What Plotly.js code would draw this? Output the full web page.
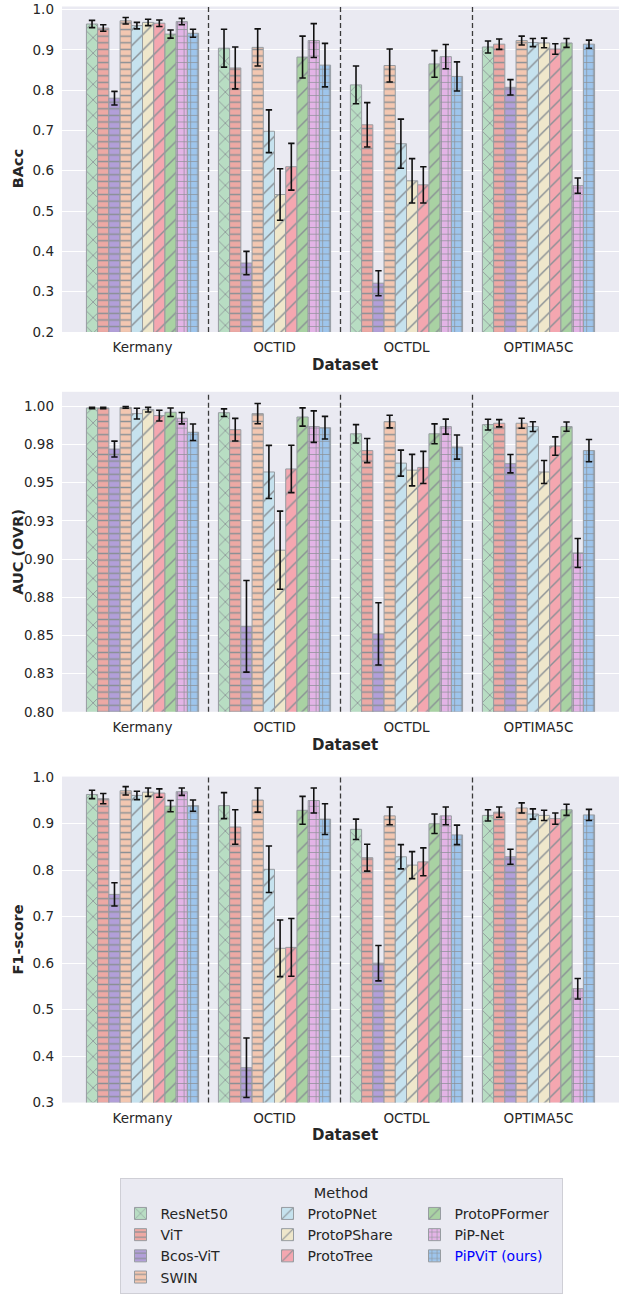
<!DOCTYPE html>
<html>
<head>
<meta charset="utf-8">
<script src="https://cdn.plot.ly/plotly-3.0.1.min.js"></script>
<style>html,body{margin:0;padding:0;background:#fff;}#chart{width:619px;height:1294px;}</style>
</head>
<body>
<div id="chart"></div>
<script>
// ---------- data ----------
const datasets = ["Kermany", "OCTID", "OCTDL", "OPTIMA5C"];
const methods = ["ResNet50", "ViT", "Bcos-ViT", "SWIN", "ProtoPNet", "ProtoPShare", "ProtoTree", "ProtoPFormer", "PiP-Net", "PiPViT (ours)"];

// rows = methods (same order), columns = datasets
const baccMean = [
  [0.964, 0.904, 0.813, 0.907],
  [0.954, 0.855, 0.714, 0.914],
  [0.780, 0.371, 0.321, 0.807],
  [0.972, 0.906, 0.861, 0.923],
  [0.960, 0.698, 0.667, 0.918],
  [0.968, 0.541, 0.575, 0.917],
  [0.966, 0.610, 0.565, 0.902],
  [0.939, 0.882, 0.865, 0.917],
  [0.970, 0.923, 0.883, 0.563],
  [0.941, 0.862, 0.834, 0.914]
];
const baccErr = [
  [0.009, 0.047, 0.047, 0.015],
  [0.008, 0.052, 0.055, 0.013],
  [0.017, 0.029, 0.031, 0.019],
  [0.008, 0.046, 0.041, 0.011],
  [0.008, 0.053, 0.061, 0.010],
  [0.008, 0.064, 0.055, 0.012],
  [0.008, 0.058, 0.045, 0.013],
  [0.010, 0.052, 0.033, 0.011],
  [0.008, 0.042, 0.030, 0.019],
  [0.010, 0.054, 0.036, 0.010]
];
const aucMean = [
  [0.9989, 0.9958, 0.9820, 0.9880],
  [0.9989, 0.9847, 0.9710, 0.9889],
  [0.9720, 0.8560, 0.8510, 0.9624],
  [0.9993, 0.9952, 0.9900, 0.9889],
  [0.9952, 0.9570, 0.9628, 0.9867],
  [0.9978, 0.9058, 0.9582, 0.9570],
  [0.9939, 0.9590, 0.9600, 0.9740],
  [0.9961, 0.9930, 0.9820, 0.9867],
  [0.9922, 0.9867, 0.9867, 0.9040],
  [0.9830, 0.9860, 0.9733, 0.9710]
];
const aucErr = [
  [0.0005, 0.0025, 0.0060, 0.0035],
  [0.0005, 0.0074, 0.0079, 0.0024],
  [0.0052, 0.0300, 0.0204, 0.0060],
  [0.0006, 0.0066, 0.0041, 0.0033],
  [0.0035, 0.0174, 0.0085, 0.0032],
  [0.0015, 0.0256, 0.0103, 0.0075],
  [0.0035, 0.0155, 0.0105, 0.0060],
  [0.0028, 0.0060, 0.0065, 0.0030],
  [0.0037, 0.0103, 0.0049, 0.0095],
  [0.0054, 0.0074, 0.0079, 0.0073]
];
const f1Mean = [
  [0.963, 0.939, 0.888, 0.918],
  [0.954, 0.893, 0.827, 0.925],
  [0.748, 0.375, 0.600, 0.829],
  [0.971, 0.951, 0.917, 0.934],
  [0.961, 0.802, 0.829, 0.921],
  [0.968, 0.632, 0.811, 0.918],
  [0.966, 0.634, 0.818, 0.911],
  [0.938, 0.929, 0.900, 0.930],
  [0.969, 0.950, 0.917, 0.545],
  [0.939, 0.910, 0.876, 0.919]
];
const f1Err = [
  [0.009, 0.028, 0.022, 0.012],
  [0.011, 0.037, 0.029, 0.011],
  [0.025, 0.064, 0.038, 0.016],
  [0.009, 0.026, 0.019, 0.011],
  [0.009, 0.050, 0.026, 0.011],
  [0.009, 0.061, 0.029, 0.011],
  [0.009, 0.062, 0.030, 0.012],
  [0.012, 0.030, 0.021, 0.012],
  [0.008, 0.027, 0.019, 0.022],
  [0.012, 0.033, 0.021, 0.012]
];
const aucTickVals = [0.8, 0.825, 0.85, 0.875, 0.9, 0.925, 0.95, 0.975, 1.0];
const aucTickText = ["0.80", "0.83", "0.85", "0.88", "0.90", "0.93", "0.95", "0.98", "1.00"];

// ---------- styles ----------
const colors = ["#b8ddc3", "#eda9a4", "#b29fd9", "#f3c7b1", "#c6e2ee", "#efe7cb", "#f4a7b0", "#a9d2a3", "#e3b4e6", "#9ec5ec"];
const hatches = ["x", "-", "-", "-", "/", "/", "/", "/", "+", "+"];
const hatchSize = {"x": 11, "-": 6.6, "/": 11, "+": 6.6};
const hatchSolid = {"x": 0.14, "-": 0.22, "/": 0.13, "+": 0.2};
const legendRank = [1, 4, 7, 10, 2, 5, 8, 3, 6, 9];
const edge = "#979ca1";
const txt = "#262626";

const W = 619, H = 1294, L = 62;
const py = p => 1 - p / H;

const panels = [
  {mean: baccMean, err: baccErr, xa: "x", ya: "y", top: 6.5, bot: 333, title: "BAcc"},
  {mean: aucMean, err: aucErr, xa: "x2", ya: "y2", top: 393, bot: 714, title: "AUC (OVR)"},
  {mean: f1Mean, err: f1Err, xa: "x3", ya: "y3", top: 779, bot: 1106, title: "F1-score"}
];

const traces = [];
panels.forEach((pn, pi) => {
  methods.forEach((m, mi) => {
    const name = mi === 9 ? '<span style="color:#0000ff">' + m + '</span>' : m;
    traces.push({
      type: "bar",
      x: datasets,
      y: pn.mean[mi],
      name: name,
      legendgroup: m,
      legendrank: legendRank[mi],
      showlegend: pi === 0,
      xaxis: pn.xa,
      yaxis: pn.ya,
      marker: {
        color: colors[mi],
        line: {color: edge, width: 1},
        pattern: {
          shape: hatches[mi],
          fillmode: "replace",
          bgcolor: colors[mi],
          fgcolor: "#8a9095",
          fgopacity: 1,
          size: hatchSize[hatches[mi]],
          solidity: hatchSolid[hatches[mi]]
        }
      },
      error_y: {type: "data", array: pn.err[mi], visible: true, color: "#111111", thickness: 1.6, width: 3.2},
      hoverinfo: "skip"
    });
  });
});

const layout = {
  width: W, height: H,
  margin: {l: L, r: 0, t: 0, b: 0},
  paper_bgcolor: "#ffffff",
  plot_bgcolor: "#eaeaf2",
  barmode: "group",
  bargap: 0.15,
  bargroupgap: 0,
  font: {family: "DejaVu Sans, sans-serif", color: txt, size: 13},
  showlegend: true,
  legend: {
    orientation: "h",
    x: (341 - L) / (W - L), xanchor: "center",
    y: py(1182), yanchor: "top",
    bgcolor: "#eaeaf2",
    bordercolor: "#cfcfd6",
    borderwidth: 1,
    font: {size: 14, color: txt},
    title: {text: "Method", side: "top center", font: {size: 14.5, color: txt}},
    entrywidth: 102,
    entrywidthmode: "pixels",
    traceorder: "normal"
  },
  shapes: [],
  annotations: []
};

panels.forEach((pn, pi) => {
  const sfx = pi === 0 ? "" : String(pi + 1);
  const dom = [py(pn.bot), py(pn.top)];
  layout["xaxis" + sfx] = {
    domain: [0, 1],
    anchor: "y" + sfx,
    type: "category",
    range: [-0.61, 3.61],
    showgrid: false, zeroline: false, showline: false,
    ticks: "",
    ticklabelstandoff: 6,
    tickfont: {size: 13.5, color: txt}
  };
  const ya = {
    domain: dom,
    anchor: "x" + sfx,
    showgrid: true, gridcolor: "#ffffff", gridwidth: 1,
    zeroline: false, showline: false,
    ticks: "",
    ticklabelstandoff: 7,
    tickfont: {size: 13.5, color: txt}
  };
  if (pi === 0) { ya.range = [0.2, 1.0075]; ya.tickvals = [0.2,0.3,0.4,0.5,0.6,0.7,0.8,0.9,1.0]; ya.ticktext = ya.tickvals.map(v => v.toFixed(1)); }
  if (pi === 1) { ya.range = [0.8, 1.0095]; ya.tickvals = aucTickVals; ya.ticktext = aucTickText; }
  if (pi === 2) { ya.range = [0.3, 1.0015]; ya.tickvals = [0.3,0.4,0.5,0.6,0.7,0.8,0.9,1.0]; ya.ticktext = ya.tickvals.map(v => v.toFixed(1)); }
  layout["yaxis" + sfx] = ya;

  [0.5, 1.5, 2.5].forEach(xv => {
    layout.shapes.push({
      type: "line", xref: "x" + sfx, yref: "y" + sfx + " domain",
      x0: xv, x1: xv, y0: 0, y1: 1,
      line: {color: "#3a3a3a", width: 1.3, dash: "5px,3px"},
      layer: "above"
    });
  });

  layout.annotations.push({
    text: "<b>" + pn.title + "</b>", xref: "paper", yref: "paper",
    x: (18 - L) / (W - L), y: py((pn.top + pn.bot) / 2),
    xanchor: "center", yanchor: "middle", textangle: -90, showarrow: false,
    font: {size: 14.5, color: txt}
  });
  layout.annotations.push({
    text: "<b>Dataset</b>", xref: "paper", yref: "paper",
    x: (345 - L) / (W - L), y: py(pn.bot + 33),
    xanchor: "center", yanchor: "middle", showarrow: false,
    font: {size: 15, color: txt}
  });
});

Plotly.newPlot("chart", traces, layout, {staticPlot: true, displayModeBar: false});
</script>
</body>
</html>
